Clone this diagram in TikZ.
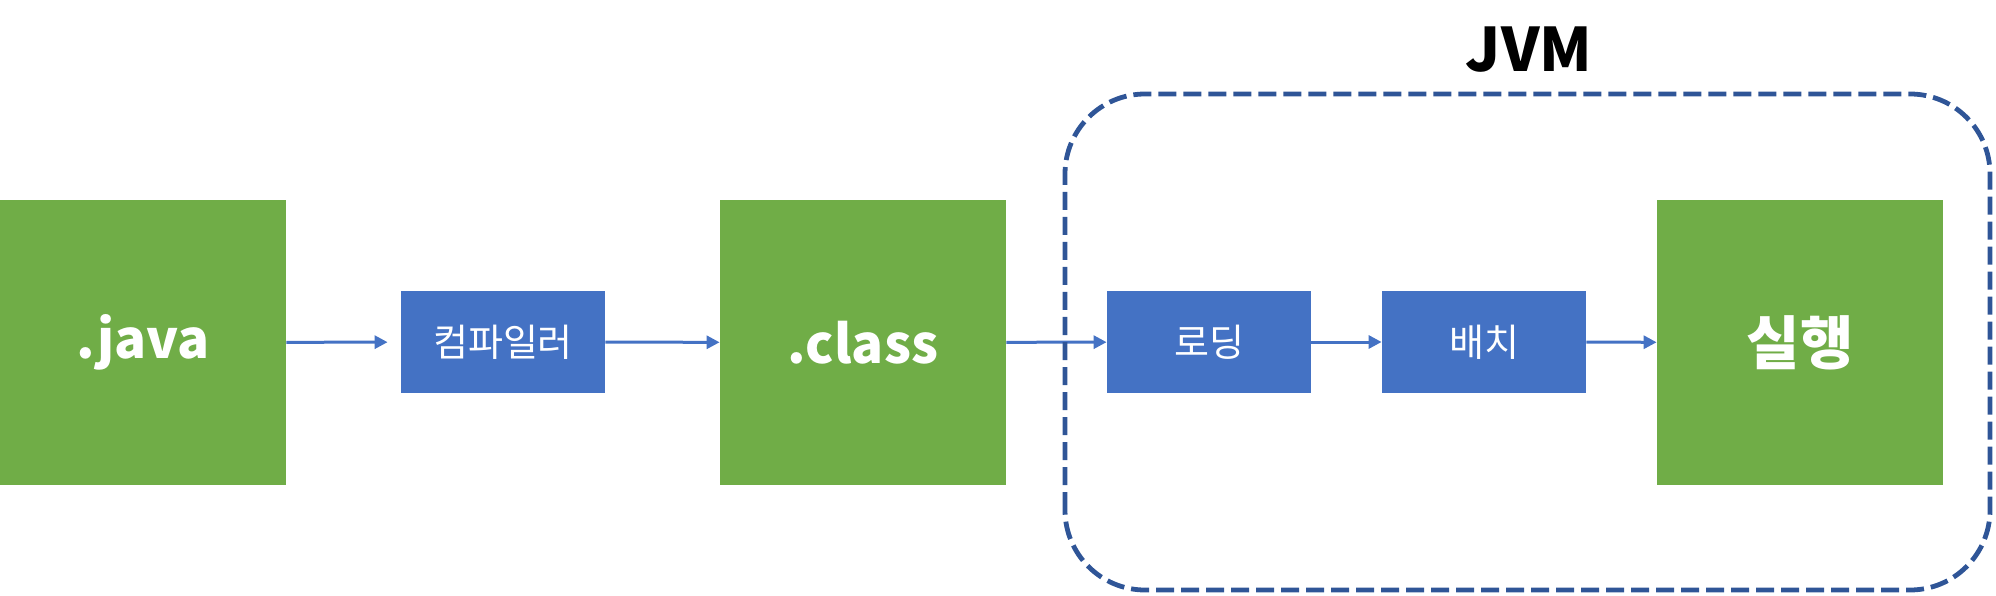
\documentclass[tikz,border=0pt]{standalone}
\usepackage{fontspec}
\setmainfont{Noto Sans CJK KR}
\usetikzlibrary{arrows.meta}
\definecolor{filegreen}{HTML}{70AD47}
\definecolor{stepblue}{HTML}{4472C4}
\definecolor{jvmblue}{HTML}{2F5597}

\begin{document}
\begin{tikzpicture}[x=0.5pt,y=0.5pt]

      \useasboundingbox (0,0) rectangle (1996,595);

      \begin{scope}[every node/.style={fill=filegreen,text=white,inner sep=0pt,minimum width=143pt,minimum height=142.5pt,font=\fontsize{26.5}{26.5}\selectfont\bfseries}]
        \node (java)  at (143,252.5)  {.java};
        \node (class) at (863,252.5)  {.class};
        \node[font=\fontsize{29}{29}\selectfont\bfseries] (run) at (1800,252.5) {실행};
      \end{scope}

      \begin{scope}[every node/.style={fill=stepblue,text=white,inner sep=0pt,minimum width=102pt,minimum height=51pt,font=\fontsize{19}{19}\selectfont}]
        \node (compiler) at (503,253)  {컴파일러};
        \node (loading)  at (1209,253) {로딩};
        \node (linking)  at (1484,253) {배치};
      \end{scope}

      \begin{scope}[every edge/.style={draw=stepblue,line width=1.5pt,-{Triangle[length=6.5pt,width=6.5pt]}}]
        \path (java)     edge[shorten >=6.5pt] (compiler);
        \path (compiler) edge (class);
        \path (class)    edge (loading);
        \path (loading)  edge (linking);
        \path (linking)  edge (run);
      \end{scope}

      \draw[jvmblue,line width=2.4pt,dash pattern=on 9pt off 3.5pt,rounded corners=40pt] (1065,5) rectangle (1990,501);
      \node (jvm) at (1529,545) {\fontsize{30}{30}\selectfont\bfseries JVM};

    \end{tikzpicture}
\end{document}
